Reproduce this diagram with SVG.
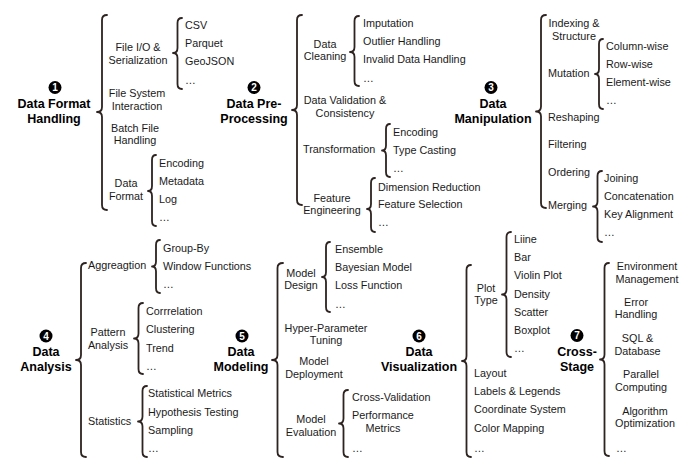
<svg xmlns="http://www.w3.org/2000/svg" width="696" height="473" viewBox="0 0 696 473">
<style>
text{font-family:"Liberation Sans",Arial,sans-serif;fill:#1a1a1a}
.t{font-size:10.8px}
.m{text-anchor:middle}
.h{font-size:12.5px;font-weight:bold;text-anchor:middle;fill:#000}
.n{font-size:10px;font-weight:bold;text-anchor:middle;fill:#fff}
.c{fill:#000}
.br{fill:none;stroke:#2d2320;stroke-width:1.8;stroke-linecap:round;stroke-linejoin:round}
</style>
<rect width="696" height="473" fill="#fff"/>
<g id="connectors">
<path class="br" d="M107,15 Q102,15 102,20 L102,107 Q102,112 97,112 Q102,112 102,117 L102,205 Q102,210 107,210"/>
<path class="br" d="M182,18 Q177.5,18 177.5,23 L177.5,48 Q177.5,53 173,53 Q177.5,53 177.5,58 L177.5,84 Q177.5,89 182,89"/>
<path class="br" d="M156,155 Q152,155 152,160 L152,186 Q152,191 148,191 Q152,191 152,196 L152,221 Q152,226 156,226"/>
<path class="br" d="M302,15 Q297,15 297,20 L297,105 Q297,110 292,110 Q297,110 297,115 L297,200 Q297,205 302,205"/>
<path class="br" d="M359,16 Q354.5,16 354.5,21 L354.5,47 Q354.5,52 350,52 Q354.5,52 354.5,57 L354.5,81 Q354.5,86 359,86"/>
<path class="br" d="M390,124 Q386,124 386,129 L386,145.5 Q386,150.5 382,150.5 Q386,150.5 386,155.5 L386,172 Q386,177 390,177"/>
<path class="br" d="M375,178 Q371,178 371,183 L371,204 Q371,209 367,209 Q371,209 371,214 L371,227 Q371,232 375,232"/>
<path class="br" d="M546,15 Q541,15 541,20 L541,106.5 Q541,111.5 536,111.5 Q541,111.5 541,116.5 L541,203 Q541,208 546,208"/>
<path class="br" d="M603,39 Q599,39 599,44 L599,69 Q599,74 595,74 Q599,74 599,79 L599,104 Q599,109 603,109"/>
<path class="br" d="M602,171 Q597.5,171 597.5,176 L597.5,201.5 Q597.5,206.5 593,206.5 Q597.5,206.5 597.5,211.5 L597.5,237 Q597.5,242 602,242"/>
<path class="br" d="M86,263 Q81,263 81,268 L81,355 Q81,360 76,360 Q81,360 81,365 L81,452 Q81,457 86,457"/>
<path class="br" d="M160,240 Q156,240 156,245 L156,261.5 Q156,266.5 152,266.5 Q156,266.5 156,271.5 L156,288 Q156,293 160,293"/>
<path class="br" d="M143,303 Q138.5,303 138.5,308 L138.5,333.5 Q138.5,338.5 134,338.5 Q138.5,338.5 138.5,343.5 L138.5,369 Q138.5,374 143,374"/>
<path class="br" d="M147,386 Q142.5,386 142.5,391 L142.5,416.5 Q142.5,421.5 138,421.5 Q142.5,421.5 142.5,426.5 L142.5,452 Q142.5,457 147,457"/>
<path class="br" d="M283,263 Q277.5,263 277.5,268 L277.5,355 Q277.5,360 272,360 Q277.5,360 277.5,365 L277.5,452 Q277.5,457 283,457"/>
<path class="br" d="M330,242 Q326,242 326,247 L326,272 Q326,277 322,277 Q326,277 326,282 L326,307 Q326,312 330,312"/>
<path class="br" d="M348,390 Q343.5,390 343.5,395 L343.5,418.5 Q343.5,423.5 339,423.5 Q343.5,423.5 343.5,428.5 L343.5,452 Q343.5,457 348,457"/>
<path class="br" d="M471,265 Q466.5,265 466.5,270 L466.5,356 Q466.5,361 462,361 Q466.5,361 466.5,366 L466.5,452 Q466.5,457 471,457"/>
<path class="br" d="M511,232 Q506.5,232 506.5,237 L506.5,289.5 Q506.5,294.5 502,294.5 Q506.5,294.5 506.5,299.5 L506.5,352 Q506.5,357 511,357"/>
<path class="br" d="M609,263 Q604.5,263 604.5,268 L604.5,354.5 Q604.5,359.5 600,359.5 Q604.5,359.5 604.5,364.5 L604.5,451 Q604.5,456 609,456"/>
</g>
<g id="node1">
<circle class="c" cx="55" cy="87.5" r="6.5"/><text class="n" x="55" y="91">1</text>
<text class="h" x="54" y="107.5">Data Format</text><text class="h" x="54" y="122.5">Handling</text>
<text class="t m" x="138" y="51">File I/O &amp;</text><text class="t m" x="138" y="64">Serialization</text>
<text class="t" x="185" y="29">CSV</text><text class="t" x="185" y="47">Parquet</text><text class="t" x="185" y="65">GeoJSON</text><text class="t" x="185" y="84">…</text>
<text class="t m" x="137" y="97">File System</text><text class="t m" x="137" y="110">Interaction</text>
<text class="t m" x="135" y="132">Batch File</text><text class="t m" x="135" y="144">Handling</text>
<text class="t m" x="126" y="187">Data</text><text class="t m" x="126" y="200">Format</text>
<text class="t" x="159" y="167">Encoding</text><text class="t" x="159" y="185">Metadata</text><text class="t" x="159" y="203">Log</text><text class="t" x="159" y="221">…</text>
</g>
<g id="node2">
<circle class="c" cx="254" cy="87.5" r="6.5"/><text class="n" x="254" y="91">2</text>
<text class="h" x="254" y="107.5">Data Pre-</text><text class="h" x="254" y="122.5">Processing</text>
<text class="t m" x="325" y="48">Data</text><text class="t m" x="325" y="60">Cleaning</text>
<text class="t" x="363" y="27">Imputation</text><text class="t" x="363" y="45">Outlier Handling</text><text class="t" x="363" y="63">Invalid Data Handling</text><text class="t" x="363" y="82">…</text>
<text class="t m" x="345" y="104">Data Validation &amp;</text><text class="t m" x="345" y="117">Consistency</text>
<text class="t" x="303" y="153">Transformation</text>
<text class="t" x="393" y="136">Encoding</text><text class="t" x="393" y="154">Type Casting</text><text class="t" x="393" y="172">…</text>
<text class="t m" x="332" y="202">Feature</text><text class="t m" x="332" y="214">Engineering</text>
<text class="t" x="378" y="191">Dimension Reduction</text><text class="t" x="378" y="208">Feature Selection</text><text class="t" x="378" y="226">…</text>
</g>
<g id="node3">
<circle class="c" cx="491" cy="87.5" r="6.5"/><text class="n" x="491" y="91">3</text>
<text class="h" x="493" y="107.5">Data</text><text class="h" x="493" y="122.5">Manipulation</text>
<text class="t m" x="574" y="27">Indexing &amp;</text><text class="t m" x="574" y="40">Structure</text>
<text class="t" x="548" y="77">Mutation</text>
<text class="t" x="606" y="50">Column-wise</text><text class="t" x="606" y="68">Row-wise</text><text class="t" x="606" y="86">Element-wise</text><text class="t" x="606" y="104">…</text>
<text class="t" x="548" y="121">Reshaping</text>
<text class="t" x="548" y="148">Filtering</text>
<text class="t" x="548" y="176">Ordering</text>
<text class="t" x="548" y="209">Merging</text>
<text class="t" x="604" y="182">Joining</text><text class="t" x="604" y="200">Concatenation</text><text class="t" x="604" y="218">Key Alignment</text><text class="t" x="604" y="236">…</text>
</g>
<g id="node4">
<circle class="c" cx="46" cy="336" r="6.5"/><text class="n" x="46" y="339.5">4</text>
<text class="h" x="46" y="356">Data</text><text class="h" x="46" y="371">Analysis</text>
<text class="t" x="88" y="269">Aggreagtion</text>
<text class="t" x="163" y="252">Group-By</text><text class="t" x="163" y="270">Window Functions</text><text class="t" x="163" y="288">…</text>
<text class="t m" x="108" y="336">Pattern</text><text class="t m" x="108" y="349">Analysis</text>
<text class="t" x="146" y="315">Corrrelation</text><text class="t" x="146" y="333">Clustering</text><text class="t" x="146" y="352">Trend</text><text class="t" x="146" y="370">…</text>
<text class="t" x="88" y="425">Statistics</text>
<text class="t" x="148" y="397">Statistical Metrics</text><text class="t" x="148" y="416">Hypothesis Testing</text><text class="t" x="148" y="434">Sampling</text><text class="t" x="148" y="452">…</text>
</g>
<g id="node5">
<circle class="c" cx="242" cy="336" r="6.5"/><text class="n" x="242" y="339.5">5</text>
<text class="h" x="241" y="356">Data</text><text class="h" x="241" y="371">Modeling</text>
<text class="t m" x="301" y="277">Model</text><text class="t m" x="301" y="289">Design</text>
<text class="t" x="335" y="253">Ensemble</text><text class="t" x="335" y="271">Bayesian Model</text><text class="t" x="335" y="289">Loss Function</text><text class="t" x="335" y="308">…</text>
<text class="t m" x="326" y="332">Hyper-Parameter</text><text class="t m" x="326" y="344">Tuning</text>
<text class="t m" x="314" y="365">Model</text><text class="t m" x="314" y="378">Deployment</text>
<text class="t m" x="311" y="423">Model</text><text class="t m" x="311" y="436">Evaluation</text>
<text class="t" x="352" y="401">Cross-Validation</text><text class="t" x="352" y="419">Performance</text><text class="t m" x="383" y="432">Metrics</text><text class="t" x="352" y="452">…</text>
</g>
<g id="node6">
<circle class="c" cx="419" cy="336" r="6.5"/><text class="n" x="419" y="339.5">6</text>
<text class="h" x="419" y="356">Data</text><text class="h" x="419" y="371">Visualization</text>
<text class="t m" x="486" y="292">Plot</text><text class="t m" x="486" y="304">Type</text>
<text class="t" x="514" y="243">Liine</text><text class="t" x="514" y="261">Bar</text><text class="t" x="514" y="279">Violin Plot</text><text class="t" x="514" y="298">Density</text><text class="t" x="514" y="316">Scatter</text><text class="t" x="514" y="334">Boxplot</text><text class="t" x="514" y="352">…</text>
<text class="t" x="474" y="377">Layout</text><text class="t" x="474" y="395">Labels &amp; Legends</text><text class="t" x="474" y="413">Coordinate System</text><text class="t" x="474" y="432">Color Mapping</text><text class="t" x="474" y="452">…</text>
</g>
<g id="node7">
<circle class="c" cx="577" cy="335.5" r="6.5"/><text class="n" x="577" y="339">7</text>
<text class="h" x="577" y="356">Cross-</text><text class="h" x="577" y="371">Stage</text>
<text class="t m" x="647" y="270">Environment</text><text class="t m" x="647" y="283">Management</text>
<text class="t m" x="636" y="306">Error</text><text class="t m" x="636" y="318">Handling</text>
<text class="t m" x="637.5" y="342">SQL &amp;</text><text class="t m" x="637.5" y="355">Database</text>
<text class="t m" x="641" y="378">Parallel</text><text class="t m" x="641" y="391">Computing</text>
<text class="t m" x="645" y="415">Algorithm</text><text class="t m" x="645" y="427">Optimization</text>
<text class="t" x="616" y="452">…</text>
</g>
</svg>
